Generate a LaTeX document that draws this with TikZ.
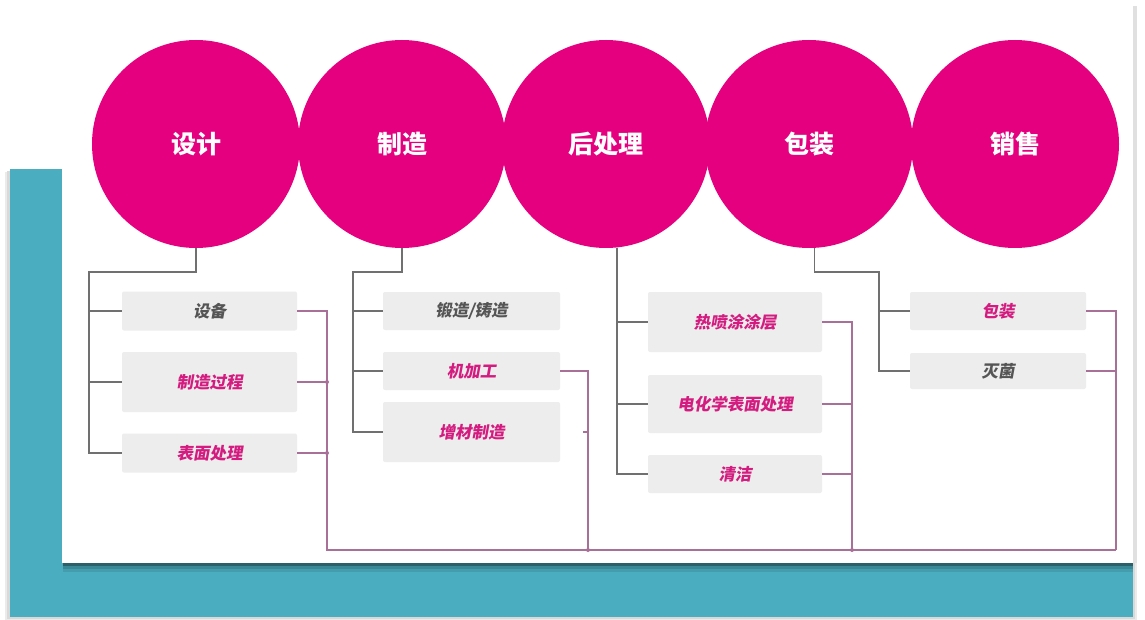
\documentclass[tikz,border=0pt]{standalone}
\usepackage{fontspec}
\newfontfamily\cjk{Noto Sans CJK SC}
\newfontfamily\cjksl[FakeSlant=0.18]{Noto Sans CJK SC}
\definecolor{mag}{RGB}{228,0,127}
\definecolor{magtext}{RGB}{212,28,128}
\definecolor{graytext}{RGB}{85,85,85}
\definecolor{lftline}{RGB}{112,112,112}
\definecolor{rgtline}{RGB}{168,112,152}
\definecolor{teal}{RGB}{75,174,192}
\definecolor{boxfill}{RGB}{237,237,237}
\tikzset{
  stage/.style={circle, fill=mag, minimum size=208pt, inner sep=0pt,
    text=white, font=\cjk\bfseries\fontsize{25}{25}\selectfont},
  sub/.style={fill=boxfill, rounded corners=2pt, inner sep=0pt,
    font=\cjksl\bfseries\fontsize{16.5}{17}\selectfont},
  hot/.style={sub, text=magtext},
  plain/.style={sub, text=graytext},
  lft/.style={draw=lftline, line width=1.5pt},
  rgt/.style={draw=rgtline, line width=1.5pt},
  jdot/.style={fill=rgtline, circle, inner sep=0pt, minimum size=4pt}
}
\begin{document}
\begin{tikzpicture}[x=1pt,y=-1pt]
\useasboundingbox (0,0) rectangle (1145,620);
\fill[white] (0,0) rectangle (1145,620);
% teal panel with soft shadow
\fill[black!8] (5,172) rectangle (1137,621);
\fill[black!15] (7,171) rectangle (1135,619);
\fill[teal] (10,169) rectangle (1133,617);
% white card with soft shadow onto the teal
\fill[teal!55!black] (63,563) rectangle (1133,566);
\fill[teal!78!black] (63,566) rectangle (1133,569);
\fill[teal!90!black] (63,569) rectangle (1133,572);
\fill[black!12] (1133,6) rectangle (1137,563);
\fill[white] (62,3) rectangle (1133,563);

% stage circles
\node[stage] (c1) at (196,144) {设计};
\node[stage] (c2) at (402,144) {制造};
\node[stage] (c3) at (606,144) {后处理};
\node[stage] (c4) at (809,144) {包装};
\node[stage] (c5) at (1015,144) {销售};

% sub boxes column 1
\node[plain, minimum width=175pt, minimum height=39pt] (b11) at (209.5,311) {设备};
\node[hot,   minimum width=175pt, minimum height=60pt] (b12) at (209.5,382) {制造过程};
\node[hot,   minimum width=175pt, minimum height=39pt] (b13) at (209.5,453) {表面处理};
% column 2
\node[plain, minimum width=177pt, minimum height=38pt] (b21) at (471.5,311) {锻造/铸造};
\node[hot,   minimum width=177pt, minimum height=38pt] (b22) at (471.5,371) {机加工};
\node[hot,   minimum width=177pt, minimum height=60pt] (b23) at (471.5,432) {增材制造};
% column 3
\node[hot, minimum width=174pt, minimum height=60pt] (b31) at (735,322) {热喷涂涂层};
\node[hot, minimum width=174pt, minimum height=58pt] (b32) at (735,404) {电化学表面处理};
\node[hot, minimum width=174pt, minimum height=38pt] (b33) at (735,474) {清洁};
% column 4
\node[hot,   minimum width=176pt, minimum height=38pt] (b41) at (998,311) {包装};
\node[plain, minimum width=176pt, minimum height=36pt] (b42) at (998,371) {灭菌};

% junction coordinates
\coordinate (j1) at (89,272);
\coordinate (j2) at (353,272);
\coordinate (j4) at (879,272);
\coordinate (r1) at (327,550);
\coordinate (r2) at (588,550);
\coordinate (r3) at (852,550);
\coordinate (r4) at (1116,550);

% left brackets (gray)
\draw[lft] (c1.south) |- (j1) |- (b13.west);
\draw[lft] (j1 |- b11.west) -- (b11.west);
\draw[lft] (j1 |- b12.west) -- (b12.west);

\draw[lft] (c2.south) |- (j2) |- (b23.west);
\draw[lft] (j2 |- b21.west) -- (b21.west);
\draw[lft] (j2 |- b22.west) -- (b22.west);

\draw[lft] (c3.-84) -- (c3.-84 |- b33.west) -- (b33.west);
\draw[lft] (c3.-84 |- b31.west) -- (b31.west);
\draw[lft] (c3.-84 |- b32.west) -- (b32.west);

\draw[lft] (c4.-87) |- (j4) |- (b42.west);
\draw[lft] (j4 |- b41.west) -- (b41.west);

% right collectors (mauve)
\draw[rgt] (b11.east) -| (r1) -- (r4);
\draw[rgt] (b12.east) -- (b12.east -| r1);
\draw[rgt] (b13.east) -- (b13.east -| r1);
\draw[rgt] (b22.east) -| (r2);
\draw[rgt] ([xshift=-5pt]b23.east -| r2) -- (b23.east -| r2);
\draw[rgt] (b31.east) -| (r3);
\draw[rgt] (b32.east) -- (b32.east -| r3);
\draw[rgt] (b33.east) -- (b33.east -| r3);
\draw[rgt] (b41.east) -| (r4);
\draw[rgt] (b42.east) -- (b42.east -| r4);

\node[jdot] (d1) at (b12.east -| r1) {};
\node[jdot] (d2) at (b13.east -| r1) {};
\node[jdot] (d3) at (r2) {};
\node[jdot] (d4) at (r3) {};
\end{tikzpicture}
\end{document}
